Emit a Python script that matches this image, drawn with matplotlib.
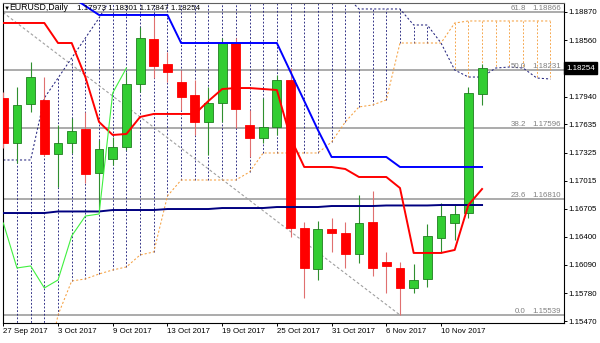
import matplotlib
matplotlib.use("Agg")
import matplotlib.pyplot as plt
import numpy as np

# daily bars, 27 Sep 2017 .. 15 Nov 2017
dates = ['27 Sep 2017', '3 Oct 2017', '9 Oct 2017', '13 Oct 2017', '19 Oct 2017',
         '25 Oct 2017', '31 Oct 2017', '6 Nov 2017', '10 Nov 2017']
date_bars = [0, 4, 8, 12, 16, 20, 24, 28, 32]

opens = [1.17925, 1.17430, 1.17859, 1.17903, 1.17309, 1.17430, 1.17584, 1.17100, 1.17254, 1.17386,
         1.18078, 1.18573, 1.18298, 1.18100, 1.17958, 1.17661, 1.17870, 1.18529, 1.17628, 1.17485,
         1.17606, 1.18122, 1.16496, 1.16045, 1.16485, 1.16441, 1.16210, 1.16562, 1.16122, 1.16056,
         1.15836, 1.15935, 1.16386, 1.16551, 1.16660, 1.17973]
highs = [1.17991, 1.18045, 1.18320, 1.18155, 1.17628, 1.17705, 1.17771, 1.17463, 1.17496, 1.18210,
         1.18705, 1.18815, 1.18430, 1.18232, 1.18122, 1.18045, 1.18584, 1.18584, 1.17793, 1.17925,
         1.18177, 1.18254, 1.16562, 1.16573, 1.16605, 1.16562, 1.16858, 1.16902, 1.16232, 1.16122,
         1.16100, 1.16540, 1.16770, 1.16759, 1.18045, 1.18301]
lows = [1.17375, 1.17210, 1.17771, 1.17287, 1.16946, 1.17320, 1.16990, 1.16671, 1.17188, 1.17353,
        1.17991, 1.18144, 1.18100, 1.17793, 1.17518, 1.17298, 1.17661, 1.17595, 1.17276, 1.17430,
        1.17518, 1.16397, 1.15726, 1.15924, 1.16232, 1.16056, 1.16111, 1.15968, 1.15781, 1.15539,
        1.15781, 1.15847, 1.16221, 1.16364, 1.16605, 1.17847]
closes = [1.17430, 1.17848, 1.18155, 1.17309, 1.17430, 1.17562, 1.17089, 1.17364, 1.17386, 1.18078,
          1.18584, 1.18276, 1.18210, 1.17936, 1.17661, 1.17870, 1.18529, 1.17804, 1.17485, 1.17606,
          1.18122, 1.16496, 1.16056, 1.16485, 1.16441, 1.16210, 1.16551, 1.16056, 1.16078, 1.15836,
          1.15924, 1.16408, 1.16627, 1.16649, 1.17980, 1.18254]

# ichimoku
tenkan = [1.18749, 1.18749, 1.18749, 1.18749, 1.18529, 1.18529, 1.18155, 1.17661, 1.17518, 1.17529,
          1.17716, 1.17749, 1.17749, 1.17749, 1.17749, 1.17892, 1.18023, 1.18034, 1.18034, 1.18023,
          1.18012, 1.17485, 1.17166, 1.17166, 1.17166, 1.17144, 1.17056, 1.17056, 1.17056, 1.16935,
          1.16221, 1.16221, 1.16221, 1.16254, 1.16748, 1.16924]
kijun = [1.19035] * 6 + [1.18936] + [1.18837] * 6 + [1.18529] * 8 + \
        [1.18210, 1.17892, 1.17573] + [1.17276] * 5 + [1.17166] * 7
span_a = [1.14825] * 4 + [1.15539, 1.15913, 1.15935, 1.15990, 1.16034, 1.16067, 1.16199, 1.16232, 1.16847] + \
         [1.17023] * 5 + [1.17111] + [1.17320] * 5 + [1.17441, 1.17661, 1.17826, 1.17848, 1.17903] + \
         [1.18529] * 4 + [1.18749] + [1.18771] * 7
span_b = [1.17243] * 3 + [1.17925, 1.18144, 1.18364, 1.18584, 1.18804] + [1.19057] * 18 + \
         [1.18903] * 4 + [1.18727] * 2 + [1.18529, 1.18232, 1.18155, 1.18155, 1.18254, 1.18265,
                                          1.18254, 1.18144, 1.18133]
ma_line = [1.16660] * 4 + [1.16677] * 4 + [1.16693] * 4 + [1.16704] * 4 + [1.16715] * 4 + \
          [1.16726] * 4 + [1.16737] * 4 + [1.16743] * 4 + [1.16748] * 4

# fibonacci
fib_pct = [0.0, 23.6, 38.2, 50.0, 61.8]
fib_price = [1.15539, 1.16810, 1.17596, 1.18231, 1.18866]
fib_trend_bar = [-18, 29]
fib_trend_price = [1.20925, 1.15539]

price_ticks = [1.15470, 1.15780, 1.16090, 1.16400, 1.16705, 1.17015, 1.17325, 1.17635,
               1.17940, 1.18560, 1.18870]
last_price = 1.18254

plt.rcParams['font.family'] = ['Liberation Sans', 'DejaVu Sans']

fig = plt.figure(figsize=(6, 3.43), dpi=100)
ax = fig.add_axes([2.7 / 600, 20 / 343, 561.3 / 600, 320.3 / 343])
ax.set_xlim(-0.044, 40.99)
ax.set_ylim(1.15451, 1.18972)

bars = np.arange(len(closes))
cloud_bars = np.arange(len(span_a))
navy = '#24247e'
orange = '#f5a040'
dash = (0, (2, 2))

# fib levels and trend line
for p in fib_price:
    ax.axhline(p, color='#ababab', lw=1.4, zorder=1)
ax.plot(fib_trend_bar, fib_trend_price, color='#a0a0a0', lw=0.8, ls=(0, (2.5, 2)), zorder=2)

# cloud hatch
sa = np.array(span_a)
sb = np.array(span_b)
cols = [navy if b >= a else orange for a, b in zip(sa, sb)]
ax.vlines(cloud_bars, sa, sb, colors=cols, lw=0.65, linestyles=dash, zorder=1.5)
ax.plot(cloud_bars, sa, color=orange, lw=0.75, ls=dash, zorder=2)
ax.plot(cloud_bars, sb, color=navy, lw=0.75, ls=dash, zorder=2)

# candles
for i in bars:
    o, h, l, c = opens[i], highs[i], lows[i], closes[i]
    if c >= o:
        ax.vlines(i, l, h, color='#2f8f2f', lw=0.8, zorder=3)
        ax.bar(i, c - o, bottom=o, width=0.65, color='#32cd32', edgecolor='#1f7f1f', lw=0.6, zorder=3.2)
    else:
        ax.vlines(i, l, h, color='#e07070', lw=0.8, zorder=3)
        ax.bar(i, o - c, bottom=c, width=0.65, color='#ff0000', edgecolor='#ff0000', lw=0.6, zorder=3.2)

# indicator lines
ax.plot(bars, ma_line, color='#000080', lw=1.4, zorder=4)
ax.plot(bars, kijun, color='#0000ff', lw=1.4, zorder=4)
ax.plot(bars, tenkan, color='#ff0000', lw=1.4, zorder=4)
chikou = closes[26:]
ax.plot(bars[:len(chikou)], chikou, color='#40f040', lw=0.8, zorder=4)

# fib labels
ytr = ax.get_yaxis_transform()
for pct, p in zip(fib_pct, fib_price):
    ax.text(0.9947, p, f'{p:.5f}', transform=ytr, ha='right', va='bottom', color='#808080', fontsize=5.7, zorder=5)
    ax.text(0.9323, p, f'{pct:.1f}', transform=ytr, ha='right', va='bottom', color='#808080', fontsize=5.7, zorder=5)

# axes
ax.yaxis.tick_right()
ax.set_yticks(price_ticks)
ax.set_yticklabels([f'{p:.5f}' for p in price_ticks], fontsize=5.7)
ax.tick_params(axis='y', length=2.2, width=0.7, pad=0.8)
ax.set_xticks(date_bars)
ax.set_xticklabels(dates, ha='left', fontsize=5.7)
ax.tick_params(axis='x', length=2.2, width=0.7, pad=1.5)
for s in ax.spines.values():
    s.set_color('black')
    s.set_linewidth(0.8)
ax.spines['top'].set_color('#606060')

ax.text(1.004, last_price, '1.18254', transform=ytr, ha='left', va='center', color='white', fontsize=5.7,
        bbox=dict(boxstyle='square,pad=0.3', fc='black', ec='black'), clip_on=False, zorder=6)

# header
fig.text(3.5 / 600, 1 - 8.5 / 343, '▼', fontsize=4.5, va='center')
fig.text(9 / 600, 1 - 8 / 343, 'EURUSD,Daily', fontsize=6.3, va='center')
fig.text(77 / 600, 1 - 8 / 343, '1.17973 1.18301 1.17847 1.18254', fontsize=5.8, va='center')

plt.savefig('out.png', dpi=100)
